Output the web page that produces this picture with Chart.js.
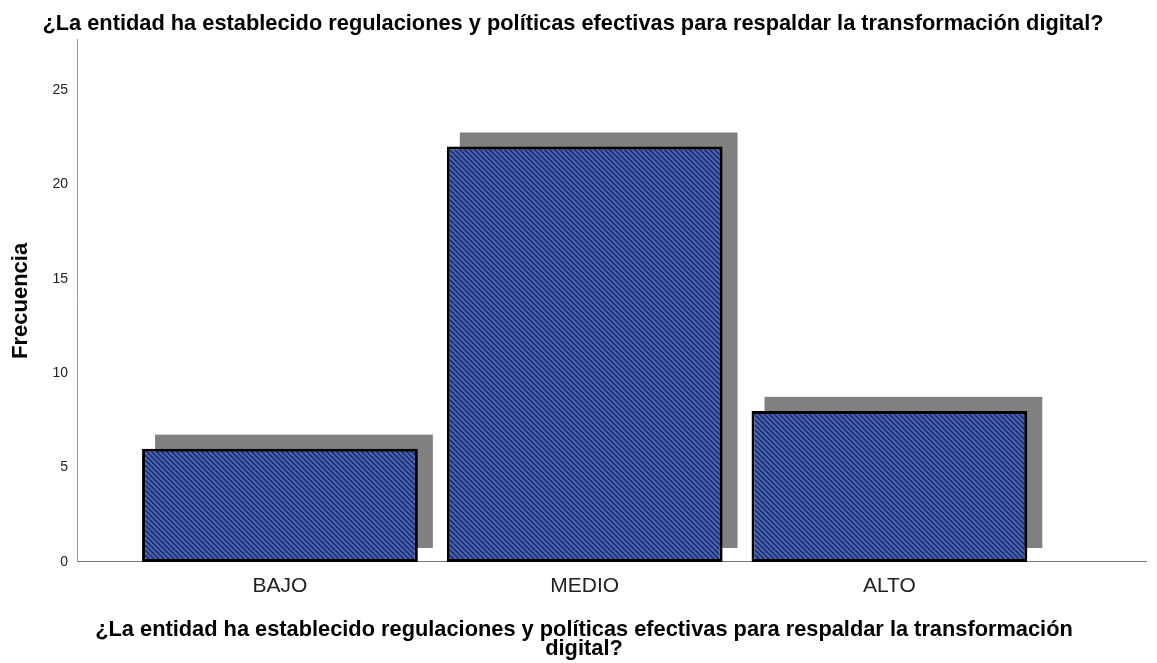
<!DOCTYPE html>
<html>
<head>
<meta charset="utf-8">
<script src="https://cdn.jsdelivr.net/npm/chart.js@4.4.1/dist/chart.umd.min.js"></script>
<style>
  html, body { margin: 0; padding: 0; background: #fff; }
  #box { width: 1157px; height: 663px; }
</style>
</head>
<body>
<div id="box"><canvas id="myChart"></canvas></div>
<script>
const categories = ["BAJO", "MEDIO", "ALTO"];
const frecuencias = [6, 22, 8];
const yTicks = [0, 5, 10, 15, 20, 25];

const titulo = "¿La entidad ha establecido regulaciones y políticas efectivas para respaldar la transformación digital?";
const tituloX = ["¿La entidad ha establecido regulaciones y políticas efectivas para respaldar la transformación", "digital?"];

// hatched fill like the spss bars
function makeHatch() {
  const size = 5;
  const c = document.createElement("canvas");
  c.width = size;
  c.height = size;
  const g = c.getContext("2d");
  g.fillStyle = "#4563bd";
  g.fillRect(0, 0, size, size);
  g.strokeStyle = "#1b2450";
  g.lineWidth = 1.3;
  g.beginPath();
  g.moveTo(0, 0);
  g.lineTo(size, size);
  g.moveTo(-size, 0);
  g.lineTo(0, size);
  g.moveTo(0, -size);
  g.lineTo(size * 2, size);
  g.stroke();
  return g.createPattern(c, "repeat");
}

// grey drop shadow behind every bar
const shadowPlugin = {
  id: "shadow",
  beforeDatasetsDraw(chart) {
    const ctx = chart.ctx;
    const meta = chart.getDatasetMeta(0);
    ctx.save();
    ctx.fillStyle = "#808080";
    meta.data.forEach((bar) => {
      const { x, y, base, width } = bar.getProps(["x", "y", "base", "width"], true);
      ctx.fillRect(x - width / 2 + 13, y - 14, width + 2, base - y);
    });
    ctx.restore();
  },
};

// nudge the bottom (axis) title a bit to the right, spss centres it there
const nudgeSubtitle = {
  id: "nudgeSubtitle",
  afterLayout(chart) {
    chart.boxes.forEach((b) => {
      if (b.position === "bottom" && b.options && Array.isArray(b.options.text)) {
        b.left += 22;
      }
    });
  },
};

const data = {
  datasets: [
    {
      label: "Frecuencia",
      data: frecuencias.map((v, i) => ({ x: i, y: v })),
      backgroundColor: makeHatch(),
      borderColor: "#000",
      borderWidth: 3,
      borderSkipped: false,
      categoryPercentage: 1,
      barPercentage: 0.905,
    },
  ],
};

const boldFont = { family: "Liberation Sans, Arial", size: 21.8, weight: "bold" };

const config = {
  type: "bar",
  data,
  plugins: [shadowPlugin, nudgeSubtitle],
  options: {
    responsive: true,
    maintainAspectRatio: false,
    animation: false,
    layout: { padding: { left: 0, right: 11, top: 0, bottom: 0 } },
    plugins: {
      legend: { display: false },
      tooltip: { enabled: false },
      title: {
        display: true,
        text: titulo,
        color: "#000",
        font: { ...boldFont, lineHeight: 1 },
        padding: { top: 13, bottom: 5 },
      },
      subtitle: {
        display: true,
        position: "bottom",
        text: tituloX,
        color: "#000",
        font: { ...boldFont, lineHeight: 0.9 },
        padding: { top: 0, bottom: 4 },
      },
    },
    scales: {
      x: {
        type: "linear",
        offset: false,
        min: -0.666,
        max: 2.842,
        grid: { display: false, drawTicks: false },
        border: { display: true, color: "#777", width: 1 },
        afterBuildTicks: (scale) => {
          scale.ticks = categories.map((c, i) => ({ value: i }));
        },
        afterFit: (scale) => {
          scale.height = 57.8;
        },
        ticks: {
          padding: 12,
          color: "#222",
          font: { family: "Liberation Sans, Arial", size: 21 },
          autoSkip: false,
          maxRotation: 0,
          callback: (v) => categories[v],
        },
      },
      y: {
        min: 0,
        max: 27.65,
        grid: { display: false, drawTicks: false },
        border: { display: true, color: "#999", width: 1 },
        afterBuildTicks: (scale) => {
          scale.ticks = yTicks.map((v) => ({ value: v }));
        },
        afterFit: (scale) => {
          scale.width = 77;
        },
        ticks: {
          padding: 9,
          color: "#222",
          font: { family: "Liberation Sans, Arial", size: 14 },
        },
        title: {
          display: true,
          text: "Frecuencia",
          color: "#000",
          font: { ...boldFont, size: 22, lineHeight: 1.2 },
          padding: { top: 8, bottom: 0 },
        },
      },
    },
  },
};

const myChart = new Chart(document.getElementById("myChart"), config);
</script>
</body>
</html>
